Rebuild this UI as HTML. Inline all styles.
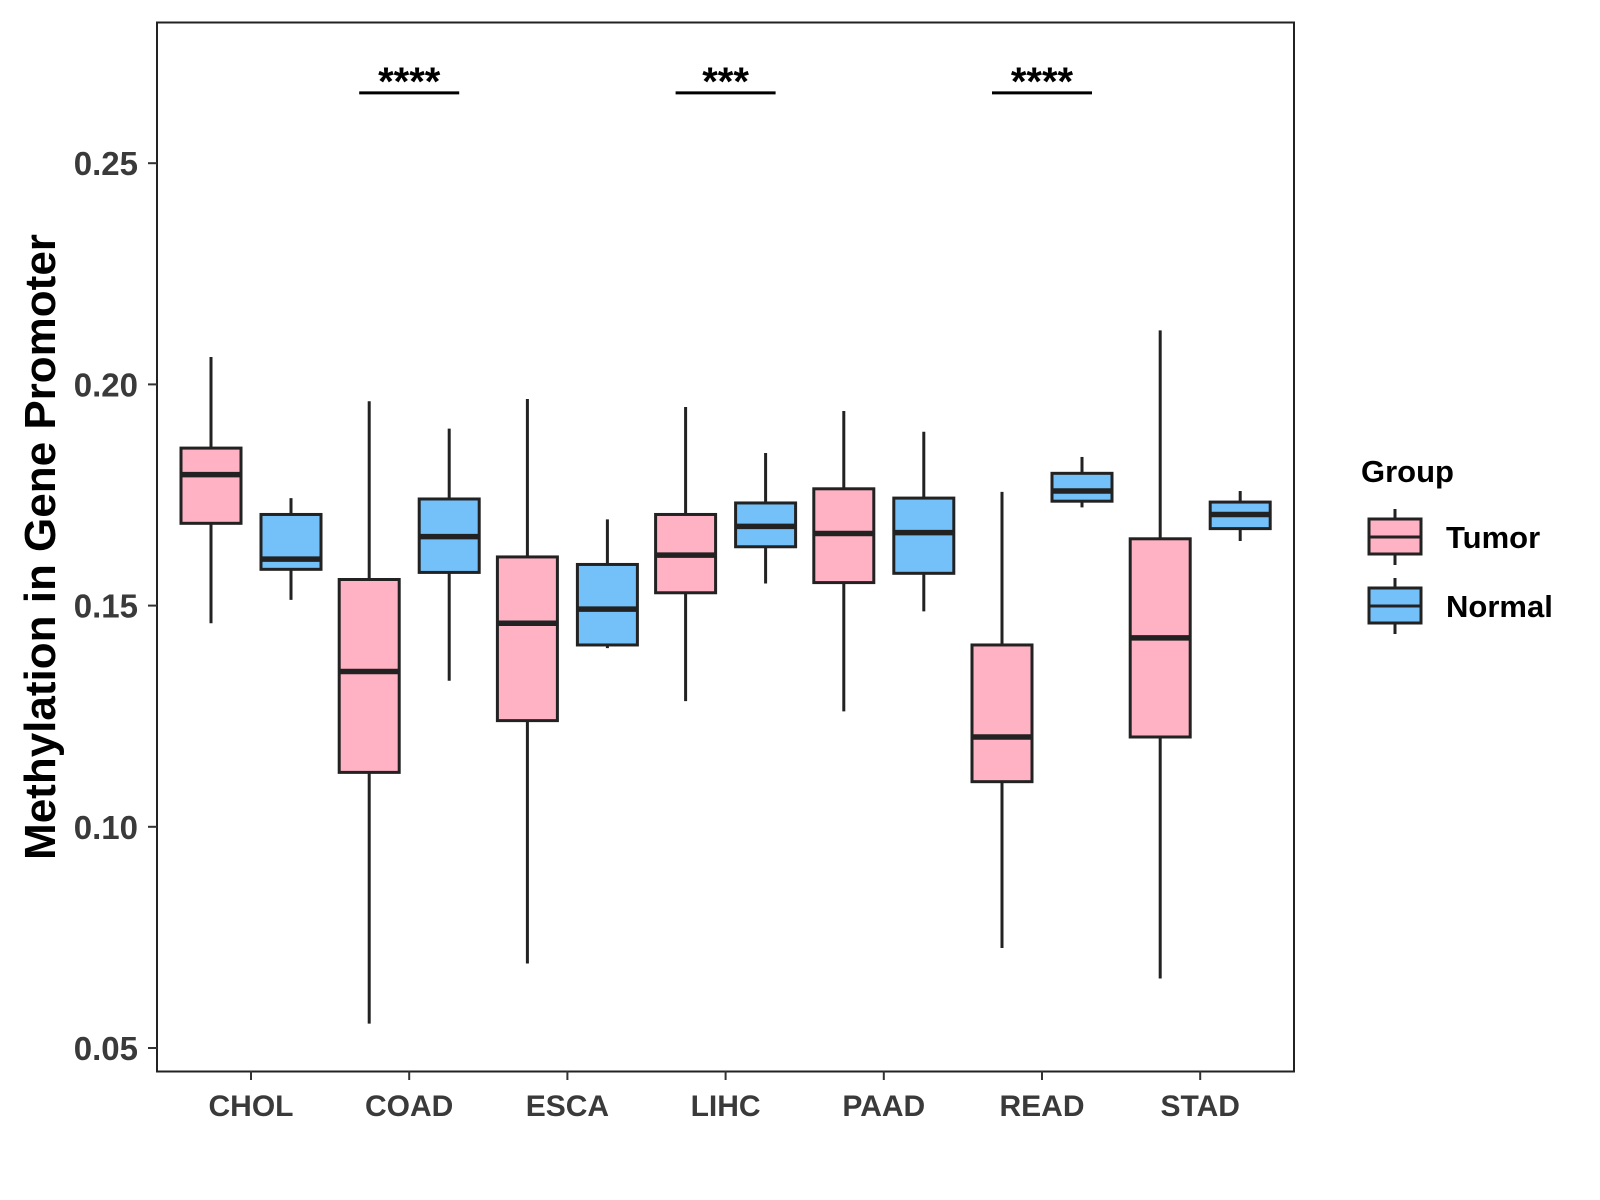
<!DOCTYPE html>
<html><head><meta charset="utf-8"><style>
body{margin:0;background:#fff}
svg{display:block;font-family:"Liberation Sans",Arial,sans-serif;font-weight:bold}
</style></head><body>
<svg id="chart" width="1600" height="1200" viewBox="0 0 1600 1200">
<rect x="157" y="22.5" width="1137" height="1049" fill="none" stroke="#222" stroke-width="2"/>
<g id="boxes"></g>
<g id="axes"></g>
<text transform="translate(55,547) rotate(-90)" text-anchor="middle" font-size="44" fill="#000">Methylation in Gene Promoter</text>
<g>
<text x="1361" y="482" font-size="31" fill="#000">Group</text>
<g>
<line x1="1395" y1="509" x2="1395" y2="565" stroke="#222" stroke-width="3"/>
<rect x="1369" y="519" width="52" height="35" fill="#FFB2C3" stroke="#222" stroke-width="3"/>
<line x1="1369" y1="537" x2="1421" y2="537" stroke="#222" stroke-width="3"/>
<text x="1446" y="548" font-size="31" fill="#000">Tumor</text></g>
<g>
<line x1="1395" y1="578" x2="1395" y2="634" stroke="#222" stroke-width="3"/>
<rect x="1369" y="588" width="52" height="35" fill="#74C1FA" stroke="#222" stroke-width="3"/>
<line x1="1369" y1="606" x2="1421" y2="606" stroke="#222" stroke-width="3"/>
<text x="1446" y="617" font-size="31" fill="#000">Normal</text></g>
</g>
</svg>
<script>
const categories=["CHOL","COAD","ESCA","LIHC","PAAD","READ","STAD"];
// [lower whisker, q1, median, q3, upper whisker]
const tumorStats=[[0.146,0.1686,0.1796,0.1856,0.2062],[0.0555,0.1123,0.1351,0.1559,0.1962],[0.0691,0.124,0.146,0.161,0.1967],[0.1284,0.1529,0.1614,0.1706,0.1949],[0.1261,0.1552,0.1663,0.1764,0.194],[0.0726,0.1102,0.1203,0.1411,0.1757],[0.0657,0.1203,0.1427,0.1651,0.2122]];
const normalStats=[[0.1513,0.1582,0.1605,0.1706,0.1743],[0.133,0.1575,0.1656,0.1741,0.190],[0.1404,0.1411,0.1492,0.1593,0.1695],[0.155,0.1633,0.1679,0.1732,0.1845],[0.1487,0.1573,0.1665,0.1743,0.1893],[0.1722,0.1736,0.1759,0.1799,0.1836],[0.1646,0.1674,0.1706,0.1734,0.1759]];
const yTicks=[0.05,0.10,0.15,0.20,0.25];
const yTickLabels=["0.05","0.10","0.15","0.20","0.25"];
const sigCategories=["COAD","LIHC","READ"];
const sigLabels=["****","***","****"];
const sigValue=0.2659;

const NS="http://www.w3.org/2000/svg";
function y(v){return 1048-(v-0.05)/0.05*221.2;}
function x(i){return 251+i*158.2;}
function mk(tag,attrs,parent){const e=document.createElementNS(NS,tag);for(const k in attrs)e.setAttribute(k,attrs[k]);parent.appendChild(e);return e;}
const boxes=document.getElementById('boxes'),axes=document.getElementById('axes');
function drawBox(cx,s,fill,name){
  const g=mk('g',{},boxes);
  
  
  mk('line',{x1:cx,x2:cx,y1:y(s[4]),y2:y(s[0]),stroke:'#222','stroke-width':3},g);
  mk('rect',{x:cx-30,y:y(s[3]),width:60,height:y(s[1])-y(s[3]),fill:fill,stroke:'#222','stroke-width':3},g);
  mk('line',{x1:cx-30,x2:cx+30,y1:y(s[2]),y2:y(s[2]),stroke:'#222','stroke-width':5.5},g);
}
categories.forEach((c,i)=>{
  drawBox(x(i)-40,tumorStats[i],'#FFB2C3','box-tumor-'+c.toLowerCase());
  drawBox(x(i)+40,normalStats[i],'#74C1FA','box-normal-'+c.toLowerCase());
  mk('line',{x1:x(i),x2:x(i),y1:1071,y2:1080,stroke:'#333','stroke-width':2},axes);
  const t=mk('text',{x:x(i),y:1116,'text-anchor':'middle','font-size':30,fill:'#3a3a3a'},axes);
  
  
  t.textContent=c;
});
yTicks.forEach((v,i)=>{
  mk('line',{x1:148,x2:157,y1:y(v),y2:y(v),stroke:'#333','stroke-width':2},axes);
  const t=mk('text',{x:138,y:y(v)+12,'text-anchor':'end','font-size':33,fill:'#3a3a3a'},axes);
  
  
  t.textContent=yTickLabels[i];
});
sigCategories.forEach((c,k)=>{
  const i=categories.indexOf(c);
  const g=mk('g',{},boxes);
  
  
  mk('line',{x1:x(i)-50,x2:x(i)+50,y1:y(sigValue),y2:y(sigValue),stroke:'#000','stroke-width':3},g);
  const t=mk('text',{x:x(i),y:y(sigValue)+2,'text-anchor':'middle','font-size':40,fill:'#000'},g);
  t.textContent=sigLabels[k];
});
</script>
</body></html>
